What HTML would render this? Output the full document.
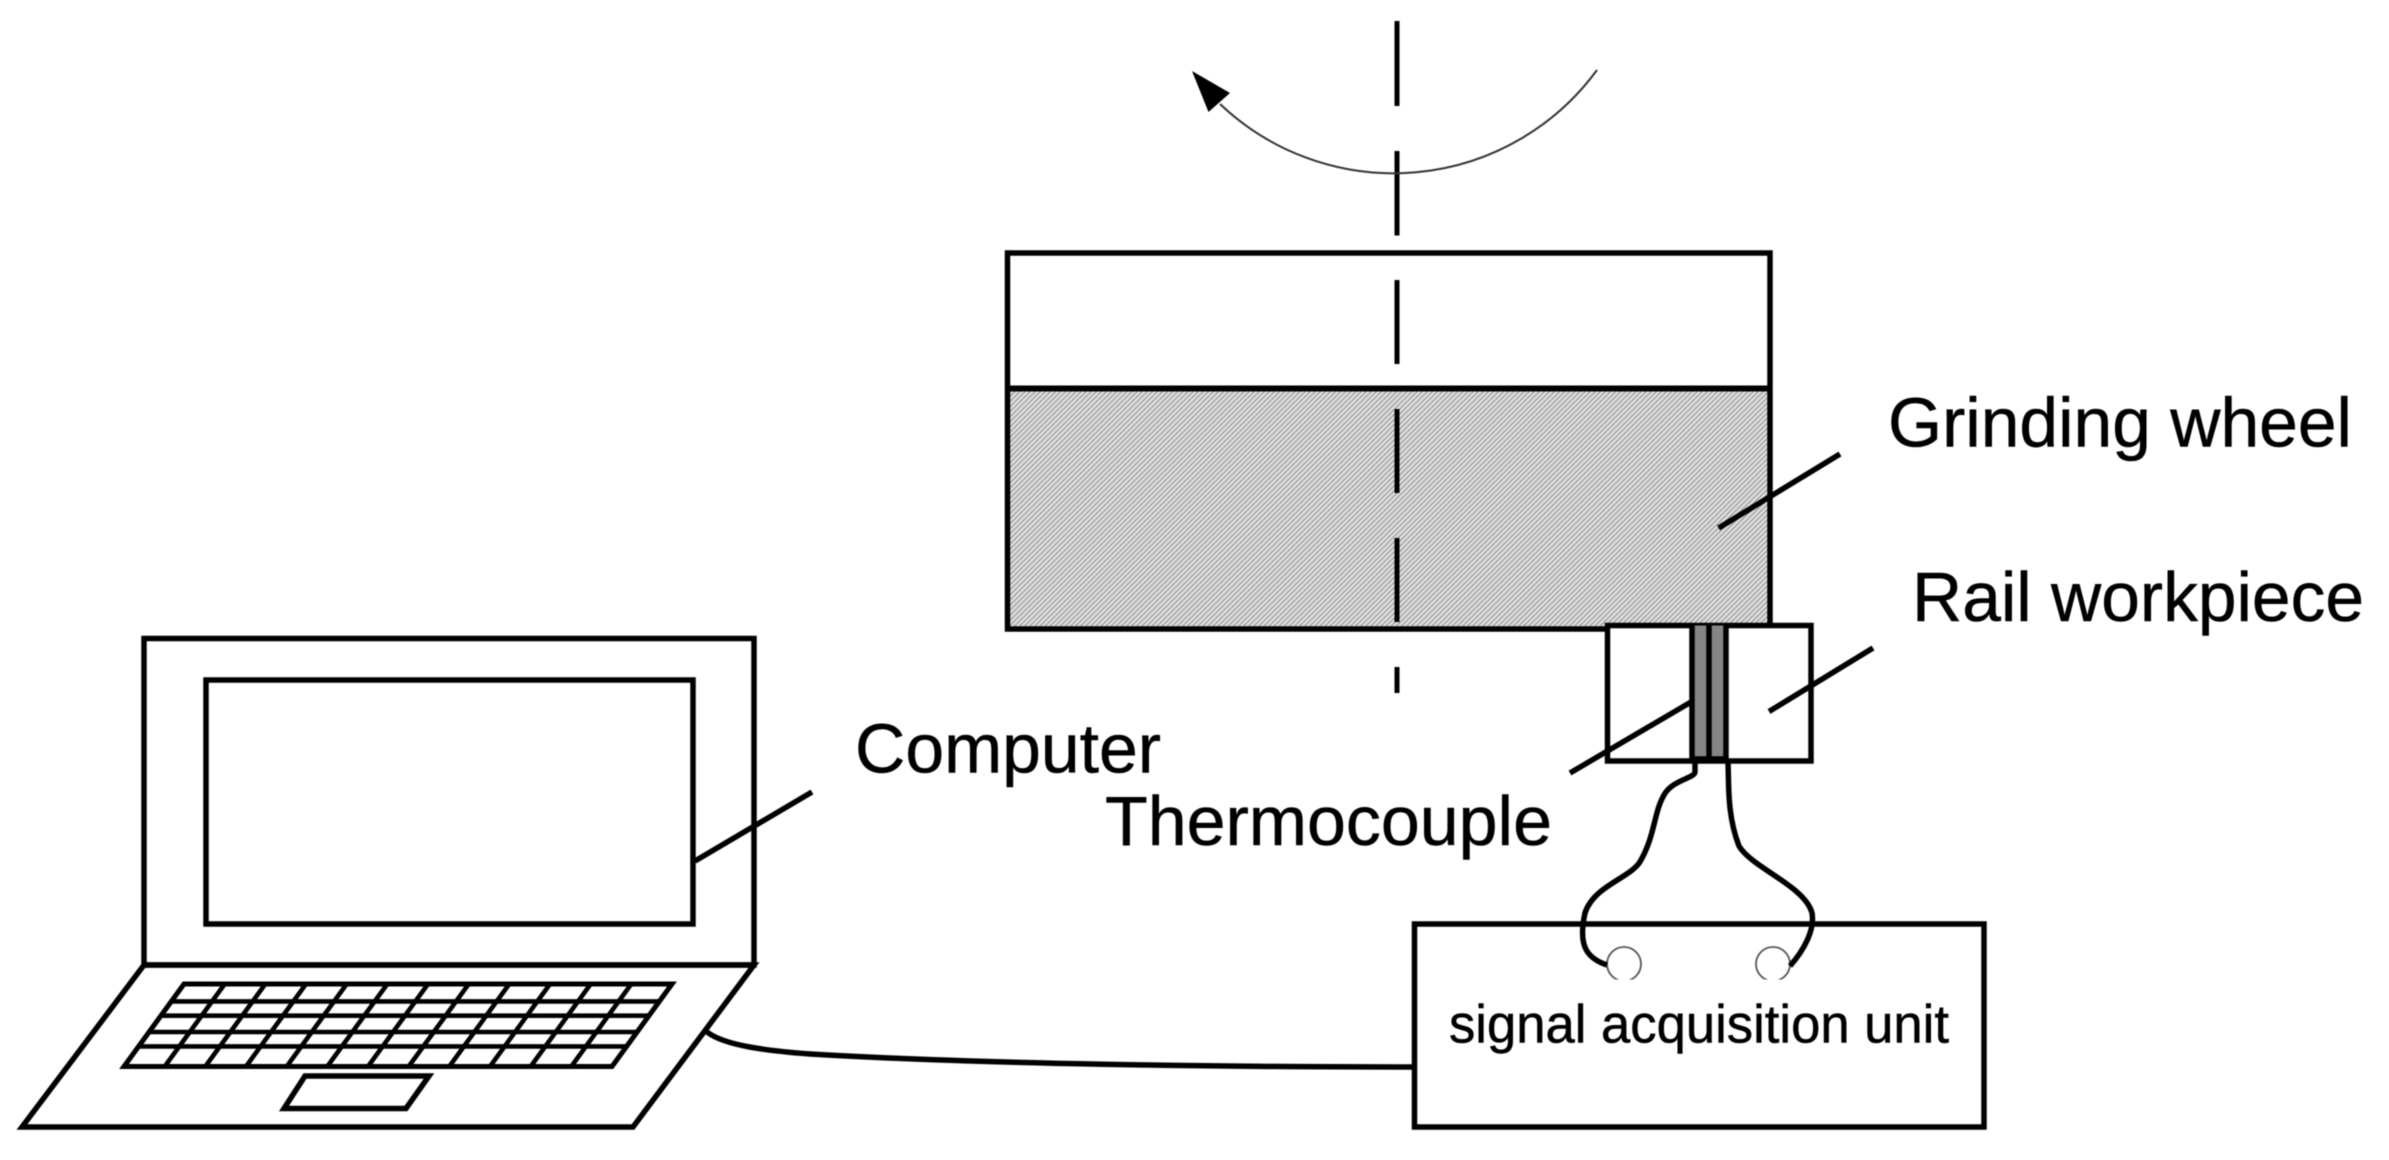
<!DOCTYPE html>
<html><head><meta charset="utf-8"><style>
html,body{margin:0;padding:0;background:#fff;width:2389px;height:1160px;overflow:hidden}
svg{display:block;filter:blur(0.6px)}
text{font-family:"Liberation Sans",sans-serif;fill:#000;stroke:#000;stroke-width:0.5}
</style></head><body>
<svg width="2389" height="1160" viewBox="0 0 2389 1160" xmlns="http://www.w3.org/2000/svg">
<defs>
<pattern id="h" width="3.6" height="3.6" patternUnits="userSpaceOnUse" patternTransform="rotate(-45)">
<rect width="3.6" height="3.6" fill="#e8e8e8"/><rect width="3.6" height="1.8" fill="#a8a8a8"/>
</pattern>
<clipPath id="c"><rect x="1590" y="930" width="210" height="49.5"/></clipPath>
</defs>
<g fill="none" stroke="#000" stroke-width="5.5">
<!-- wheel -->
<rect x="1007.5" y="388.5" width="762.5" height="240.5" fill="url(#h)" stroke="none"/>
<rect x="1007.5" y="253" width="762.5" height="376"/>
<line x1="1007.5" y1="388.5" x2="1770" y2="388.5" stroke-width="6"/>
<!-- axis -->
<g stroke-width="5">
<line x1="1397" y1="21" x2="1397" y2="106"/><line x1="1397" y1="151" x2="1397" y2="235.5"/>
<line x1="1397" y1="280" x2="1397" y2="364"/><line x1="1397" y1="409" x2="1397" y2="493"/>
<line x1="1397" y1="538" x2="1397" y2="622"/><line x1="1397" y1="667" x2="1397" y2="693"/>
</g>
<!-- rotation arrow -->
<path d="M1597 70 A252 252 0 0 1 1220 104" stroke="#333" stroke-width="2"/>
<polygon points="1192,71 1230,93 1208.5,112" fill="#000" stroke="none"/>
<!-- rail -->
<rect x="1607.5" y="625.5" width="203.5" height="135.5" fill="#fff"/>
<rect x="1692" y="625.5" width="34" height="135.5" fill="#858585" stroke="none"/>
<line x1="1692" y1="625" x2="1692" y2="762"/><line x1="1709" y1="625" x2="1709" y2="762"/><line x1="1726" y1="625" x2="1726" y2="762"/>
<line x1="1692" y1="759" x2="1726" y2="759"/>
<!-- leaders -->
<line x1="1718.6" y1="528" x2="1840" y2="454"/>
<line x1="1769" y1="711.5" x2="1873" y2="648"/>
<line x1="1691" y1="702" x2="1570" y2="773"/>
<line x1="695" y1="861" x2="812" y2="792"/>
<!-- unit -->
<rect x="1414.5" y="924" width="569.5" height="203"/>
<g clip-path="url(#c)" stroke="#555" stroke-width="1.8"><circle cx="1624" cy="964" r="17"/><circle cx="1773" cy="964" r="17"/></g>
<path d="M1695 762 L1695 772 C1695 778 1672 780 1664 795 C1654 812 1655 835 1641 860 C1632 878 1594 885 1585 913 C1578 945 1586 958 1607 965"/>
<path d="M1728 763 C1729 785 1727 815 1739 846 C1752 868 1805 886 1812 913 C1815 930 1804 950 1790 966"/>
<!-- cable -->
<path d="M707 1032 C725 1046 770 1051 810 1054 C980 1064 1220 1067 1414 1067"/>
<!-- laptop -->
<rect x="144" y="638.5" width="610" height="326.5"/>
<rect x="206" y="680" width="487" height="244"/>
<polygon points="144,965 754,965 633,1127 22,1127"/>
<polygon points="305,1076 429,1076 406,1108.5 284,1108.5"/>
<g stroke-width="4.6">
<polygon points="184,984 672,984 612,1066.5 124,1066.5" stroke-width="5"/>
<line x1="171.3" y1="1001.4" x2="659.3" y2="1001.4"/><line x1="160.9" y1="1015.7" x2="648.9" y2="1015.7"/>
<line x1="149" y1="1032" x2="637" y2="1032"/><line x1="138.6" y1="1046.4" x2="626.6" y2="1046.4"/>
<line x1="224.7" y1="984" x2="164.7" y2="1066.5"/><line x1="265.3" y1="984" x2="205.3" y2="1066.5"/>
<line x1="306" y1="984" x2="246" y2="1066.5"/><line x1="346.7" y1="984" x2="286.7" y2="1066.5"/>
<line x1="387.3" y1="984" x2="327.3" y2="1066.5"/><line x1="428" y1="984" x2="368" y2="1066.5"/>
<line x1="468.7" y1="984" x2="408.7" y2="1066.5"/><line x1="509.3" y1="984" x2="449.3" y2="1066.5"/>
<line x1="550" y1="984" x2="490" y2="1066.5"/><line x1="590.7" y1="984" x2="530.7" y2="1066.5"/>
<line x1="631.3" y1="984" x2="571.3" y2="1066.5"/>
</g>
</g>
<text x="1888" y="446.5" font-size="69.5" textLength="464" lengthAdjust="spacingAndGlyphs">Grinding wheel</text>
<text x="1912" y="621" font-size="69.5" textLength="452" lengthAdjust="spacingAndGlyphs">Rail workpiece</text>
<text x="855" y="772.5" font-size="69.5" textLength="306" lengthAdjust="spacingAndGlyphs">Computer</text>
<text x="1105" y="845" font-size="69.5" textLength="447" lengthAdjust="spacingAndGlyphs">Thermocouple</text>
<text x="1449" y="1042.5" font-size="53.5" textLength="500" lengthAdjust="spacingAndGlyphs">signal acquisition unit</text>
</svg>
</body></html>
